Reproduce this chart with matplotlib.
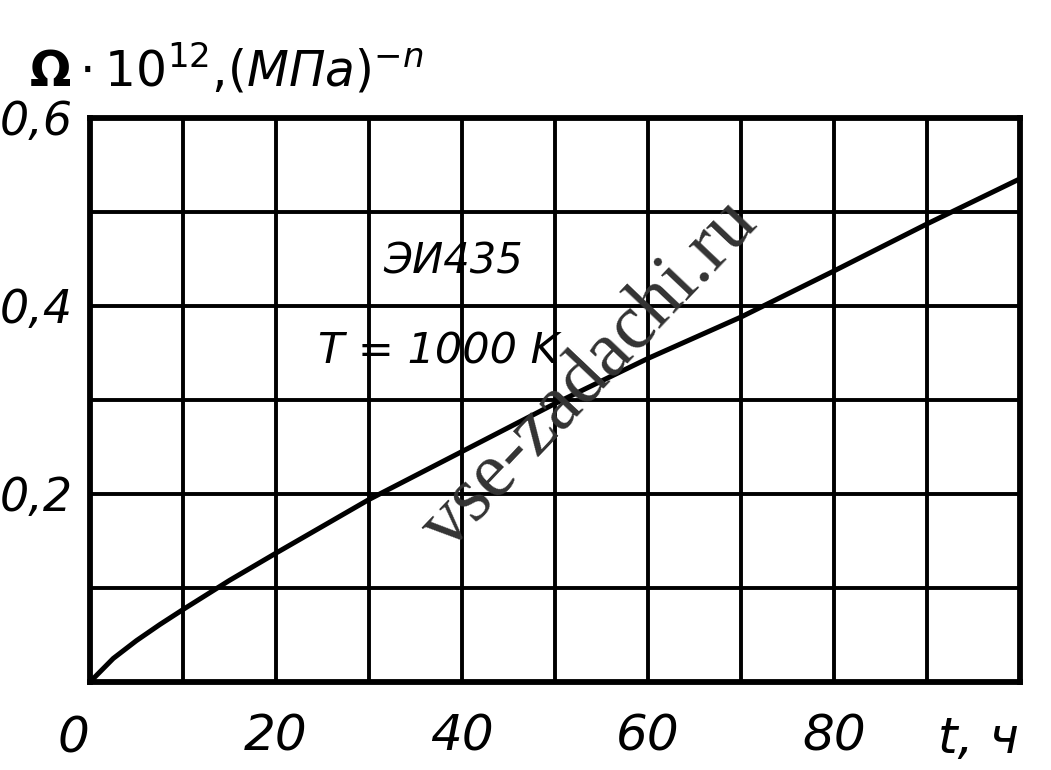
import matplotlib.pyplot as plt

# curve (t in hours, Omega*1e12)
t_hours = [0, 2.5, 5, 7.5, 10, 15, 20, 30, 40, 50, 60, 70, 80, 90, 100]
omega = [0.0, 0.025, 0.044, 0.061, 0.077, 0.108, 0.137, 0.194, 0.245, 0.296,
         0.344, 0.388, 0.437, 0.487, 0.535]

x_ticks = [20, 40, 60, 80]
x_labels = ["20", "40", "60", "80"]
y_ticks = [0.2, 0.4, 0.6]
y_labels = ["0,2", "0,4", "0,6"]

plt.rcParams["font.family"] = ["DejaVu Sans"]
plt.rcParams["mathtext.fontset"] = "dejavusans"

fig = plt.figure(figsize=(10.51, 7.70), dpi=100)
ax = fig.add_axes([0.0856, 0.1143, 0.885, 0.733])

lw_grid = 2.8
ax.plot(t_hours, omega, color="black", lw=3.6, solid_capstyle="round", zorder=3)

ax.set_xlim(0, 100)
ax.set_ylim(0, 0.6)
ax.set_xticks(range(0, 101, 10), minor=True)
ax.set_yticks([i / 10 for i in range(7)], minor=True)
ax.set_xticks(x_ticks, x_labels)
ax.set_yticks(y_ticks, y_labels)
ax.grid(which="both", color="black", lw=lw_grid)
ax.tick_params(which="both", length=0)
ax.tick_params(axis="x", pad=22, labelsize=36)
ax.tick_params(axis="y", pad=12, labelsize=33)
for lab in ax.get_xticklabels() + ax.get_yticklabels():
    lab.set_fontstyle("italic")
for s in ax.spines.values():
    s.set_linewidth(4.2)

ax.text(-1.8, -0.035, "0", fontsize=36, fontstyle="italic", ha="center", va="top")
ax.text(95.5, -0.035, "t, ч", fontsize=36, fontstyle="italic", ha="center", va="top")
ax.text(39, 0.447, "ЭИ435", fontsize=30, fontstyle="italic", ha="center", va="center")
ax.text(37.5, 0.351, "T = 1000 K", fontsize=31, fontstyle="italic", ha="center", va="center")

fig.text(0.028, 0.91, r"$\mathbf{\Omega}\cdot\mathit{10}^{\mathit{12}}$,$\mathit{(МПа)}^{-n}$",
         fontsize=35, ha="left", va="center")

# watermark of the source scan
ax.text(53.8, 0.326, "vse-zadachi.ru", fontsize=56, family="Liberation Serif",
        color="#333333", rotation=46.5, ha="center", va="center", zorder=4)

fig.savefig("out.png", dpi=100)
